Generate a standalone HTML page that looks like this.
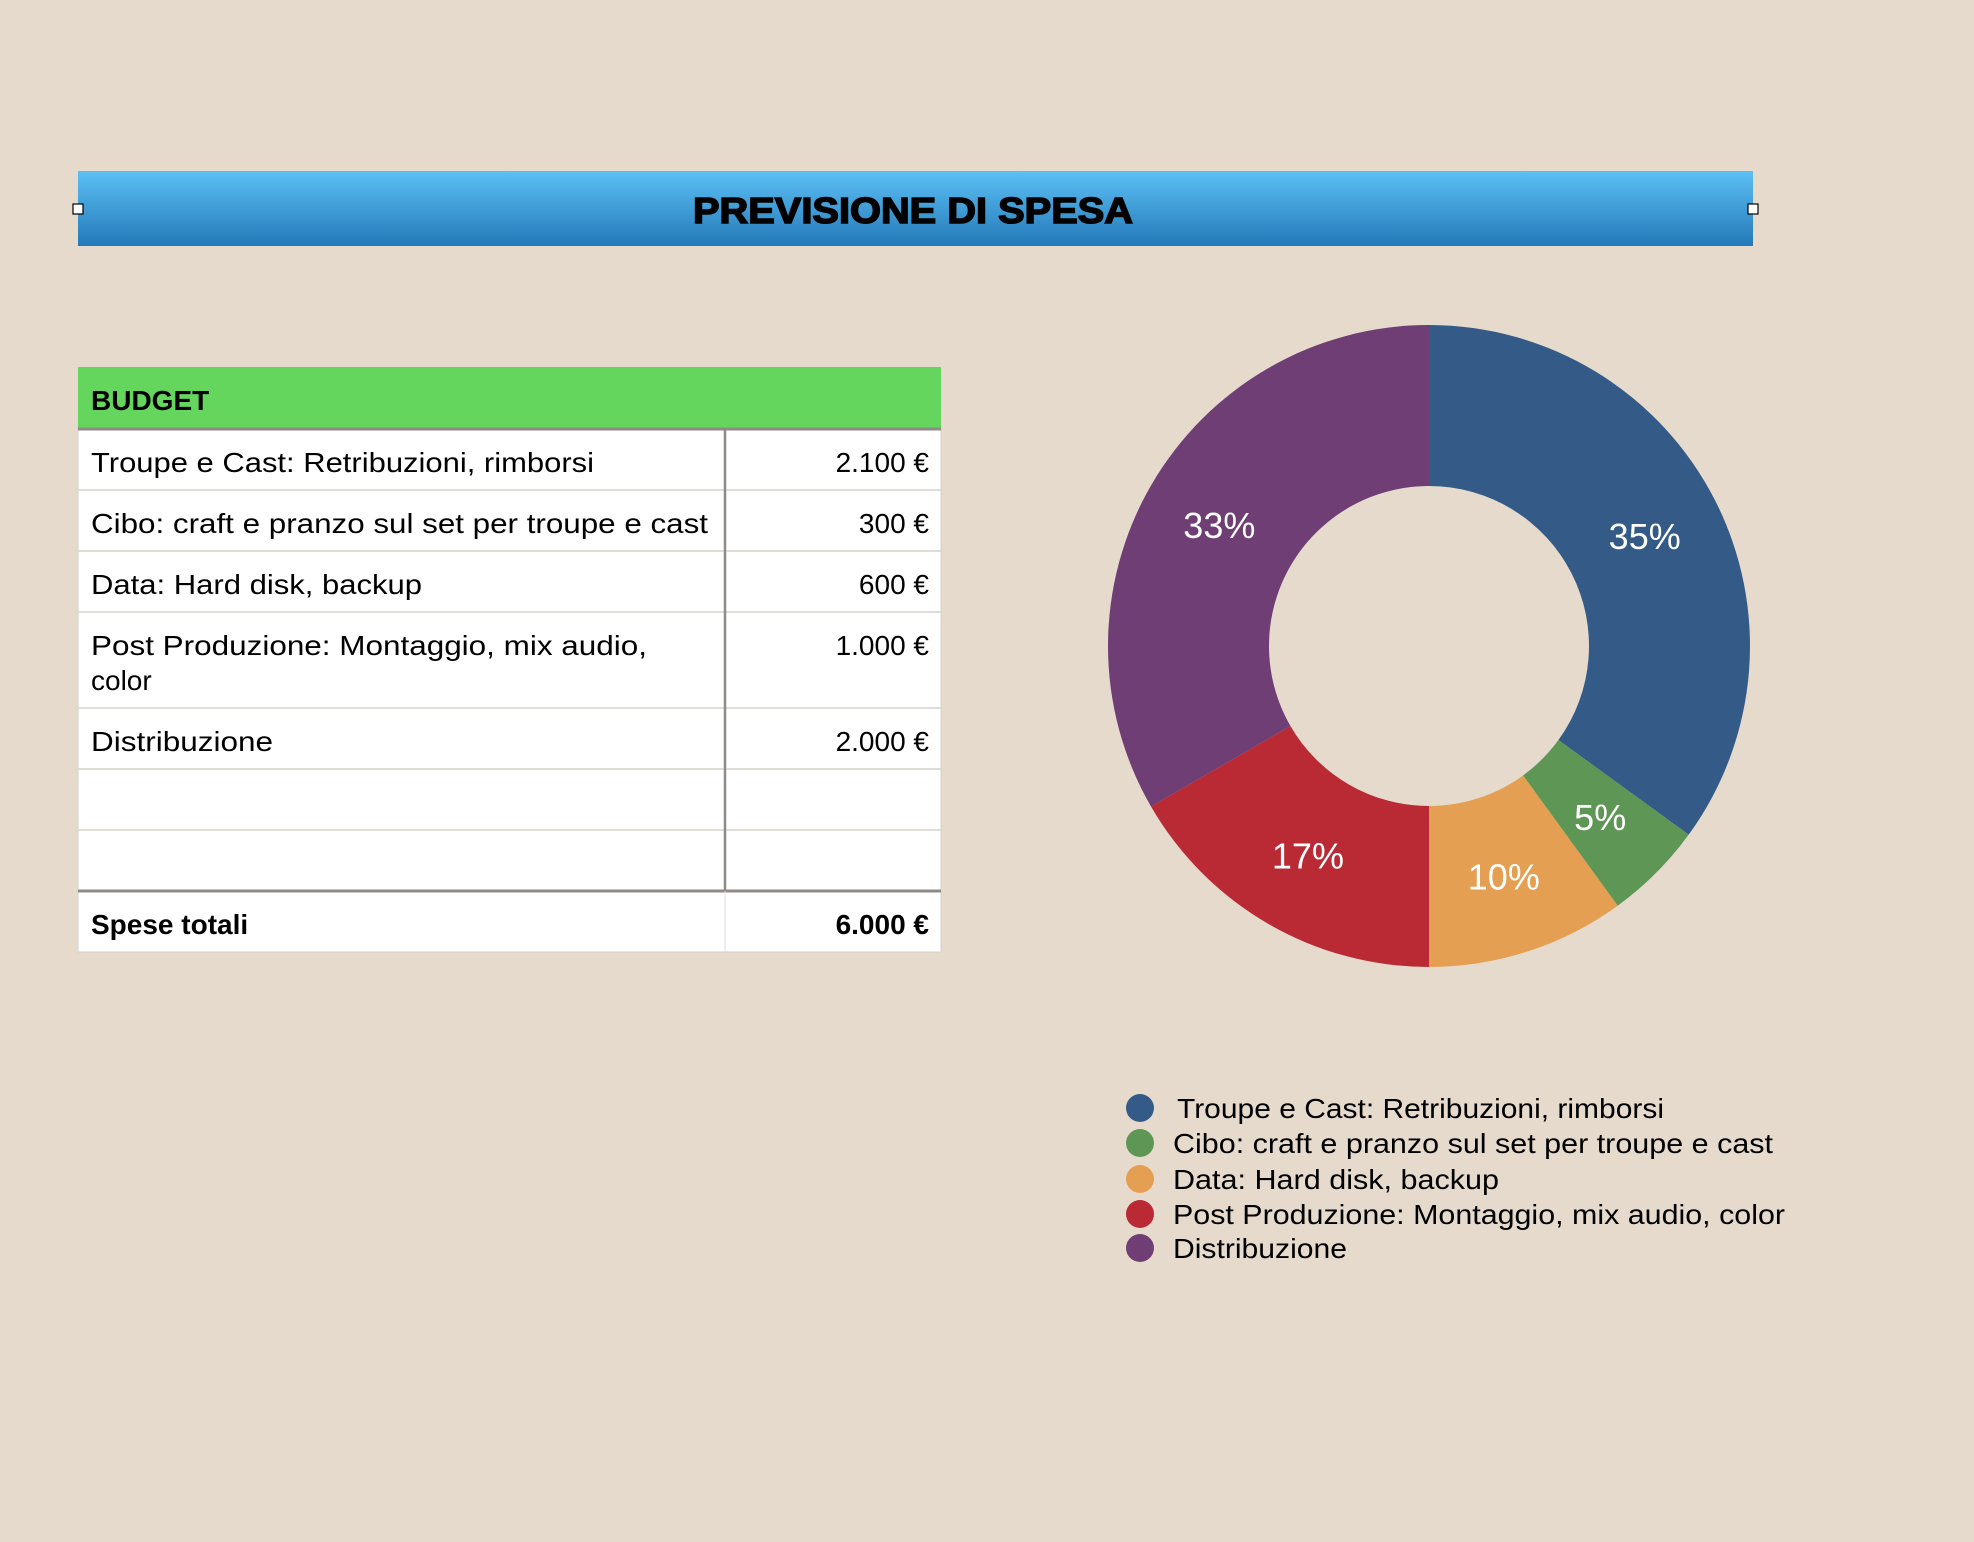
<!DOCTYPE html>
<html><head><meta charset="utf-8"><style>
html,body{margin:0;padding:0;background:#e6dacc;}
svg{display:block;font-family:"Liberation Sans",Arial,sans-serif;}
</style></head><body>
<svg id="root" width="1974" height="1542" viewBox="0 0 1974 1542">
<defs>
<linearGradient id="tg" x1="0" y1="0" x2="0" y2="1"><stop offset="0" stop-color="#5cc0f4"/><stop offset="1" stop-color="#2479b8"/></linearGradient>
</defs>
<rect width="1974" height="1542" fill="#e6dacc"/>
<g>
<rect x="78" y="171" width="1675" height="75" fill="url(#tg)"/>
<text x="913" y="223" text-anchor="middle" font-size="36" font-weight="bold" stroke="#000" stroke-width="1.5" textLength="440" lengthAdjust="spacingAndGlyphs">PREVISIONE DI SPESA</text>
<rect x="73" y="204" width="10" height="10" fill="#fff" stroke="#000" stroke-width="1.2"/>
<rect x="1748" y="204" width="10" height="10" fill="#fff" stroke="#000" stroke-width="1.2"/>
</g>
<g id="table">
<rect x="78" y="367" width="863" height="62" fill="#64d55d"/>
<text x="91" y="410" font-size="28" font-weight="bold">BUDGET</text>
<rect x="78" y="429" width="863" height="523" fill="#fff" stroke="#d6d2cc" stroke-width="1"/>
</g>
<g id="donut"></g>
<g id="legend"></g>
</svg>
<script>
const categories=["Troupe e Cast: Retribuzioni, rimborsi","Cibo: craft e pranzo sul set per troupe e cast","Data: Hard disk, backup","Post Produzione: Montaggio, mix audio, color","Distribuzione"];
const tableValues=["2.100 €","300 €","600 €","1.000 €","2.000 €"];
const values=[2100,300,600,1000,2000];
const totalLabel="6.000 €";
const colors=["#345b88","#5e9655","#e49f52","#b92a35","#6e3e74"];
const NS="http://www.w3.org/2000/svg";
function mk(tag,attrs,parent){const e=document.createElementNS(NS,tag);for(const k in attrs)e.setAttribute(k,attrs[k]);parent.appendChild(e);return e;}
// table
const tbl=document.getElementById('table');
const rowTops=[429,490,551,612,708,769,830,891];
for(let i=1;i<rowTops.length-1;i++){const l=mk('line',{x1:78,x2:941,y1:rowTops[i],y2:rowTops[i],stroke:'#d6d2cc','stroke-width':1.5},tbl);

}
const hl=mk('line',{x1:78,x2:941,y1:429,y2:429,stroke:'#8f8a85','stroke-width':3},tbl);


const tl=mk('line',{x1:78,x2:941,y1:891,y2:891,stroke:'#8f8a85','stroke-width':3},tbl);


const cd=mk('line',{x1:725,x2:725,y1:429,y2:891,stroke:'#8f8a85','stroke-width':2.5},tbl);


const cd2=mk('line',{x1:725,x2:725,y1:891,y2:952,stroke:'#e0dcd6','stroke-width':1},tbl);


const labelWidths=[503,617,331,null,182];
categories.forEach((c,i)=>{
  const y=rowTops[i]+43;
  if(i===3){
    const t1=mk('text',{x:91,y:y,'font-size':28,textLength:556,lengthAdjust:'spacingAndGlyphs'},tbl);t1.textContent="Post Produzione: Montaggio, mix audio,";
    
    
    const t2=mk('text',{x:91,y:y+35,'font-size':28},tbl);t2.textContent="color";
    
    
  } else {
    const t=mk('text',{x:91,y:y,'font-size':28,textLength:labelWidths[i],lengthAdjust:'spacingAndGlyphs'},tbl);t.textContent=c;
    
    
  }
  const v=mk('text',{x:929,y:y,'font-size':28,'text-anchor':'end'},tbl);v.textContent=tableValues[i];
  
  
});
const tt=mk('text',{x:91,y:934,'font-size':28,'font-weight':'bold'},tbl);tt.textContent="Spese totali";


const tv=mk('text',{x:929,y:934,'font-size':28,'font-weight':'bold','text-anchor':'end'},tbl);tv.textContent=totalLabel;


// donut
const dg=document.getElementById('donut');
const cx=1429,cy=646,R=321,r=160;
const sum=values.reduce((a,b)=>a+b,0);
const pt=(a,rad)=>[cx+rad*Math.sin(a),cy-rad*Math.cos(a)];
let a0=0;
values.forEach((v,i)=>{
  const a1=a0+v/sum*2*Math.PI;const large=(a1-a0)>Math.PI?1:0;
  const [x0,y0]=pt(a0,R),[x1,y1]=pt(a1,R),[x2,y2]=pt(a1,r),[x3,y3]=pt(a0,r);
  const p=mk('path',{d:`M${x0},${y0}A${R},${R} 0 ${large} 1 ${x1},${y1}L${x2},${y2}A${r},${r} 0 ${large} 0 ${x3},${y3}Z`,fill:colors[i]},dg);
  
  
  const am=(a0+a1)/2;const [lx,ly]=pt(am,(R+r)/2+0.005*R);
  const t=mk('text',{x:lx,y:ly+13,'font-size':36,fill:'#fff','text-anchor':'middle'},dg);
  t.textContent=Math.round(v/sum*100)+'%';
  
  
  a0=a1;
});
// legend
const lg=document.getElementById('legend');
const legY=[1108,1143,1179,1214,1248];
const legW=[487,600,326,612,174];
categories.forEach((c,i)=>{
  const e=mk('ellipse',{cx:1140,cy:legY[i],rx:14,ry:14,fill:colors[i]},lg);
  
  
  const t=mk('text',{x:i===0?1177:1173,y:legY[i]+10,'font-size':28,textLength:legW[i],lengthAdjust:'spacingAndGlyphs'},lg);
  t.textContent=c;
  
  
});
</script>
</body></html>
